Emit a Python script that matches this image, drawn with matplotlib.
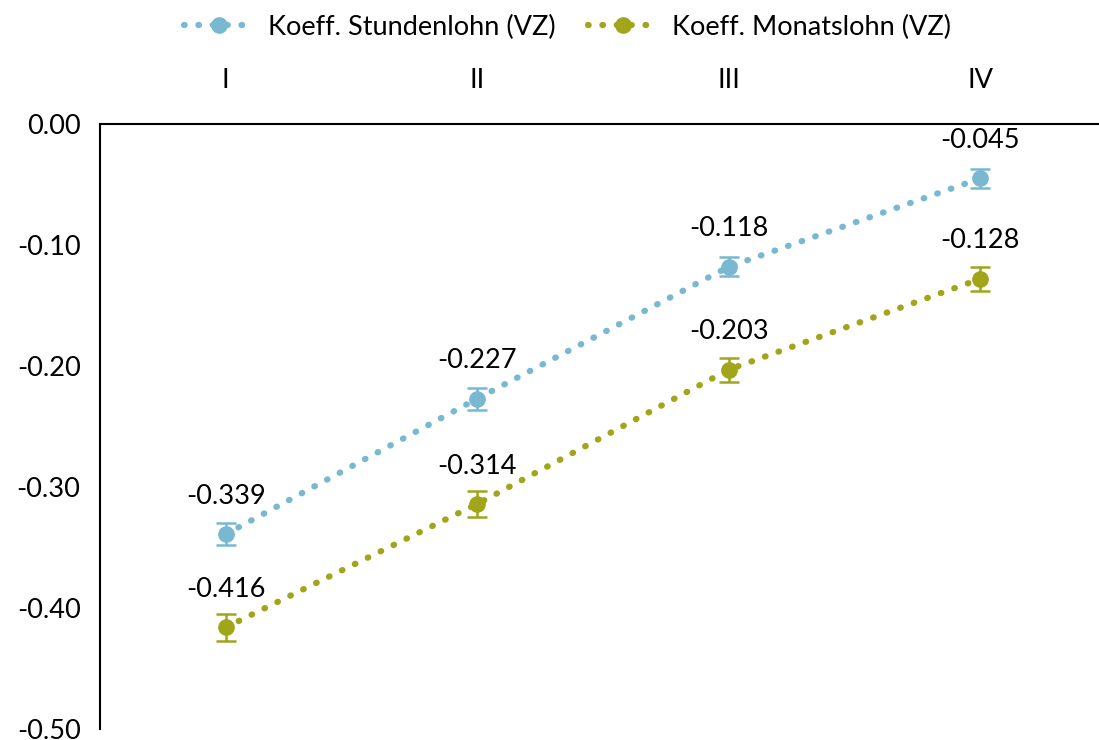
import numpy as np
import matplotlib.pyplot as plt

plt.rcParams['font.family'] = ['Lato', 'DejaVu Sans']

# Daten
quartile = ['I', 'II', 'III', 'IV']
stundenlohn = [-0.339, -0.227, -0.118, -0.045]
stunden_err = [0.009, 0.009, 0.008, 0.008]
monatslohn = [-0.416, -0.314, -0.203, -0.128]
monats_err = [0.011, 0.011, 0.010, 0.010]
y_ticks = [-0.5, -0.4, -0.3, -0.2, -0.1, 0.0]
y_labels = ['-0.50', '-0.40', '-0.30', '-0.20', '-0.10', '0.00']

col_blue = '#78B9D1'
col_olive = '#A0A51A'

fig = plt.figure(figsize=(10.99, 7.40), dpi=100)
ax = fig.add_axes([100 / 1099, 1 - 729 / 740, 1006 / 1099, 605 / 740])

x = np.arange(len(quartile))

for vals, errs, col, name in [(stundenlohn, stunden_err, col_blue, 'Koeff. Stundenlohn (VZ)'),
                              (monatslohn, monats_err, col_olive, 'Koeff. Monatslohn (VZ)')]:
    ax.plot(x, vals, linestyle=(0, (0.1, 2.2)), dash_capstyle='round', linewidth=4.5,
            color=col, marker='o', markersize=11, label=name)
    ax.errorbar(x, vals, yerr=errs, fmt='none', ecolor=col, elinewidth=1.8, capsize=7, capthick=1.8)
    for xi, v in zip(x, vals):
        ax.text(xi, v + 0.021, f'{v:.3f}', ha='center', va='bottom', fontsize=19.5)

ax.set_xlim(-0.5, 3.5)
ax.set_ylim(-0.5, 0.0)
ax.set_yticks(y_ticks)
ax.set_yticklabels(y_labels, fontsize=19.5)
ax.set_xticks(x)
ax.set_xticklabels(quartile, fontsize=19.5)
ax.xaxis.tick_top()
ax.tick_params(axis='x', length=0, pad=22)
ax.tick_params(axis='y', length=0, pad=14)

ax.spines['right'].set_visible(False)
ax.spines['bottom'].set_visible(False)
ax.spines['top'].set_linewidth(1.5)
ax.spines['left'].set_linewidth(1.5)

fig.legend(loc='upper center', bbox_to_anchor=(0.516, 1.013), ncol=2, frameon=False,
           fontsize=19.5, handlelength=2.6, handletextpad=0.5, columnspacing=1.2)

fig.savefig('out.png', dpi=100)
